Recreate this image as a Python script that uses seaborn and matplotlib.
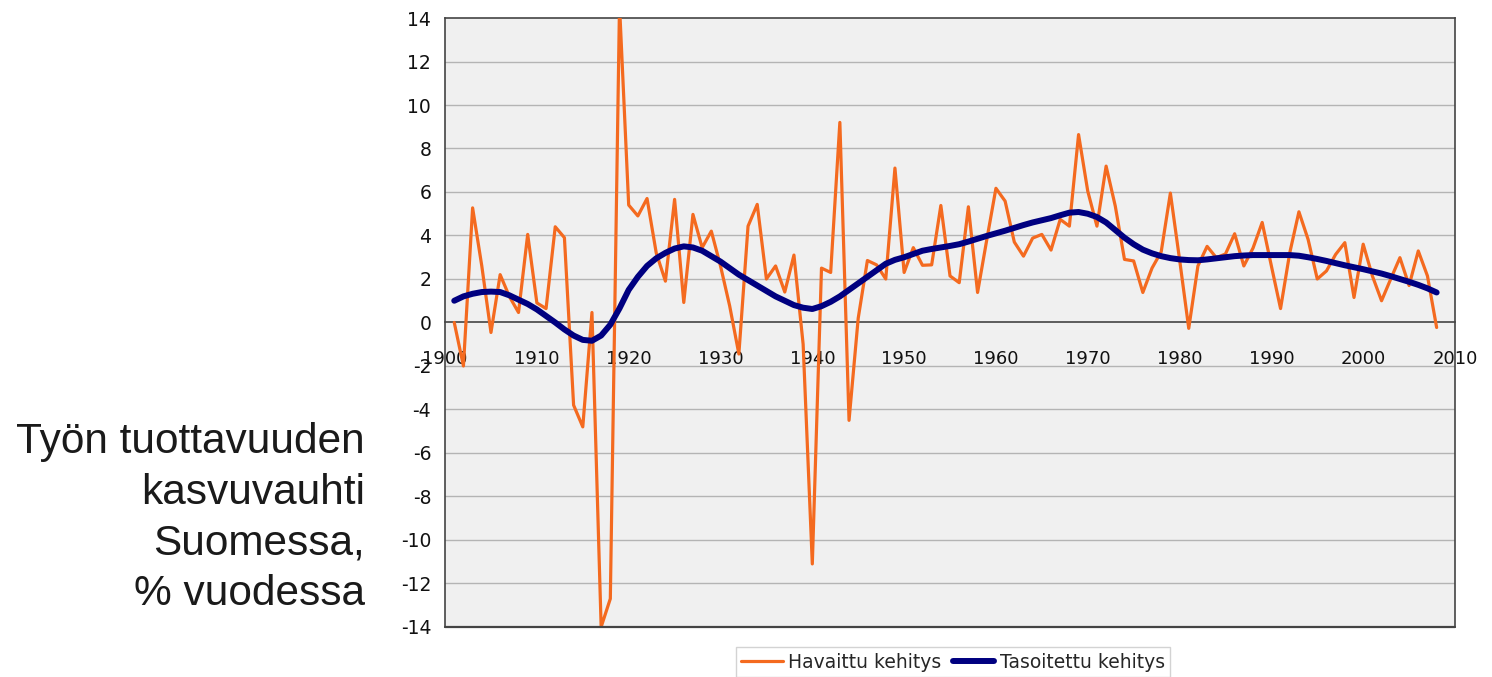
import numpy as np
import pandas as pd
import matplotlib
matplotlib.use("Agg")
import matplotlib.pyplot as plt
import seaborn as sns

# Havaittu kehitys, vuodet 1901-2008 (luettu kuvasta)
vuodet = list(range(1901, 2009))
havaittu = [
    0.0, -2.0, 5.27, 2.6, -0.46, 2.2, 1.2, 0.46, 4.05, 0.9,
    0.64, 4.4, 3.9, -3.8, -4.8, 0.46, -14.0, -12.7, 14.6, 5.4,
    4.9, 5.7, 3.2, 1.9, 5.66, 0.92, 4.97, 3.44, 4.2, 2.6,
    0.76, -1.45, 4.43, 5.43, 2.0, 2.6, 1.4, 3.1, -1.0, -11.1,
    2.5, 2.3, 9.2, -4.5, 0.2, 2.85, 2.65, 2.0, 7.1, 2.3,
    3.44, 2.63, 2.65, 5.38, 2.14, 1.83, 5.32, 1.38, 3.8, 6.17,
    5.58, 3.7, 3.05, 3.88, 4.05, 3.33, 4.74, 4.43, 8.64, 6.04,
    4.43, 7.19, 5.35, 2.9, 2.83, 1.38, 2.5, 3.25, 5.95, 2.9,
    -0.27, 2.6, 3.5, 2.98, 3.15, 4.08, 2.6, 3.42, 4.6, 2.6,
    0.64, 3.2, 5.09, 3.82, 2.0, 2.37, 3.13, 3.67, 1.15, 3.6,
    2.14, 1.0, 2.0, 2.98, 1.7, 3.29, 2.14, -0.23,
]

# Tasoitettu kehitys, samat vuodet (luettu kuvasta)
tasoitettu = [
    1.0, 1.2, 1.32, 1.4, 1.42, 1.4, 1.25, 1.05, 0.85, 0.6,
    0.3, 0.0, -0.32, -0.6, -0.8, -0.84, -0.6, -0.1, 0.65, 1.5,
    2.1, 2.6, 2.95, 3.2, 3.4, 3.5, 3.45, 3.3, 3.05, 2.8,
    2.5, 2.2, 1.95, 1.7, 1.45, 1.2, 1.0, 0.8, 0.68, 0.62,
    0.75, 0.95, 1.2, 1.5, 1.8, 2.1, 2.4, 2.7, 2.88, 3.0,
    3.15, 3.3, 3.38, 3.45, 3.52, 3.6, 3.72, 3.85, 3.98, 4.1,
    4.22, 4.35, 4.48, 4.6, 4.7, 4.8, 4.93, 5.05, 5.08, 5.0,
    4.85, 4.6, 4.25, 3.9, 3.6, 3.35, 3.18, 3.05, 2.96, 2.9,
    2.87, 2.86, 2.9, 2.95, 3.0, 3.05, 3.08, 3.1, 3.1, 3.1,
    3.1, 3.1, 3.07, 3.0, 2.92, 2.83, 2.73, 2.63, 2.54, 2.45,
    2.35, 2.25, 2.13, 2.0, 1.87, 1.73, 1.57, 1.38,
]

x_ticks = list(range(1900, 2011, 10))
y_ticks = list(range(-14, 15, 2))

df = pd.DataFrame({"vuosi": vuodet, "havaittu": havaittu, "tasoitettu": tasoitettu})

sns.set_style("white")
plt.rcParams["font.family"] = ["DejaVu Sans"]
plt.rcParams["axes.unicode_minus"] = False

fig = plt.figure(figsize=(14.92, 6.77), dpi=100)
ax = fig.add_axes([0.2983, 0.0739, 0.6769, 0.8995])
ax.set_facecolor("#f0f0f0")

sns.lineplot(data=df, x="vuosi", y="havaittu", ax=ax, color="#f46a1f",
             linewidth=2.3, label="Havaittu kehitys", zorder=3)
sns.lineplot(data=df, x="vuosi", y="tasoitettu", ax=ax, color="#000080",
             linewidth=4.3, label="Tasoitettu kehitys", zorder=4,
             solid_capstyle="round", solid_joinstyle="round")

ax.set_xlim(1900, 2010)
ax.set_ylim(-14, 14)
ax.set_xticks(x_ticks)
ax.set_yticks(y_ticks)
ax.set_xlabel("")
ax.set_ylabel("")

for y in y_ticks:
    if y not in (0, -14, 14):
        ax.axhline(y, color="#b4b4b4", linewidth=1.0, zorder=1)

for s in ax.spines.values():
    s.set_color("#444444")
    s.set_linewidth(1.2)
ax.spines["bottom"].set_position(("data", 0))
ax.axhline(-14, color="#444444", linewidth=1.6, clip_on=False, zorder=5)

ax.tick_params(axis="x", direction="out", length=5, width=1.2, color="#444444",
               pad=15, labelsize=13, labelcolor="#111111")
ax.tick_params(axis="y", direction="out", length=6, width=1.2, color="#444444",
               pad=4, labelsize=13.5, labelcolor="#111111")

leg = ax.legend(loc="upper center", bbox_to_anchor=(0.503, -0.033), ncol=2,
                frameon=True, fancybox=False, edgecolor="#c8c8c8",
                fontsize=13.5, handlelength=2.2, handletextpad=0.3,
                columnspacing=0.6, borderpad=0.3, borderaxespad=0)
leg.get_frame().set_linewidth(1.0)

fig.text(0.2446, 0.235, "Työn tuottavuuden\nkasvuvauhti\nSuomessa,\n% vuodessa",
         ha="right", va="center", multialignment="right", fontsize=30.5,
         family=["Liberation Sans", "DejaVu Sans"], color="#1a1a1a",
         linespacing=1.34)

fig.savefig("out.png", dpi=100)
